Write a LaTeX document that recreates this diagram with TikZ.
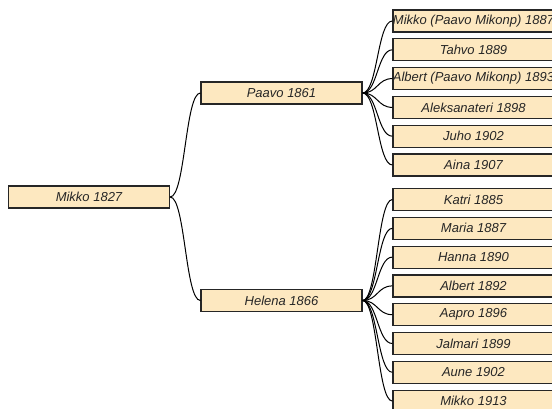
\documentclass[tikz,border=0pt]{standalone}
\usepackage{fontspec}
\setmainfont{Liberation Sans}
\usetikzlibrary{calc}
\definecolor{boxfill}{RGB}{253,232,192}
\tikzset{
  person/.style={draw=black!85, line width=1.2pt, fill=boxfill, minimum width=161pt, minimum height=22pt,
    inner sep=0pt, text=black!85, font=\fontsize{13}{15}\selectfont\itshape},
  link/.style={draw=black, line width=1pt},
  hlink/.style={to path={let \p1=(\tikztostart), \p2=(\tikztotarget) in
     .. controls ({0.5*\x1+0.5*\x2},\y1) and ({0.5*\x1+0.5*\x2},\y2) .. (\tikztotarget)}}
}
\begin{document}
\begin{tikzpicture}[x=1pt,y=-1pt]
\useasboundingbox (0,0) rectangle (552,409);
\node[person] (root) at (89,197) {Mikko 1827};
\node[person] (paavo) at (281.5,93) {Paavo 1861};
\node[person] (helena) at (281.5,300.5) {Helena 1866};
\foreach \nm/\t [count=\i from 0] in {pa/Mikko (Paavo Mikonp) 1887, pb/Tahvo 1889, pc/Albert (Paavo Mikonp) 1893, pd/Aleksanateri 1898, pe/Juho 1902, pf/Aina 1907}{
  \node[person] (\nm) at (473.5,{21+\i*28.8}) {\t};
}
\foreach \nm/\t [count=\i from 0] in {ha/Katri 1885, hb/Maria 1887, hc/Hanna 1890, hd/Albert 1892, he/Aapro 1896, hf/Jalmari 1899, hg/Aune 1902, hh/Mikko 1913}{
  \node[person] (\nm) at (473.5,{199.5+\i*28.8}) {\t};
}
\draw[link] (root.east) to[hlink] (paavo.west);
\draw[link] (root.east) to[hlink] (helena.west);
\foreach \nm in {pa,pb,pc,pd,pe,pf}{
  \draw[link] (paavo.east) to[hlink] (\nm.west);
}
\foreach \nm in {ha,hb,hc,hd,he,hf,hg,hh}{
  \draw[link] (helena.east) to[hlink] (\nm.west);
}
\end{tikzpicture}
\end{document}
